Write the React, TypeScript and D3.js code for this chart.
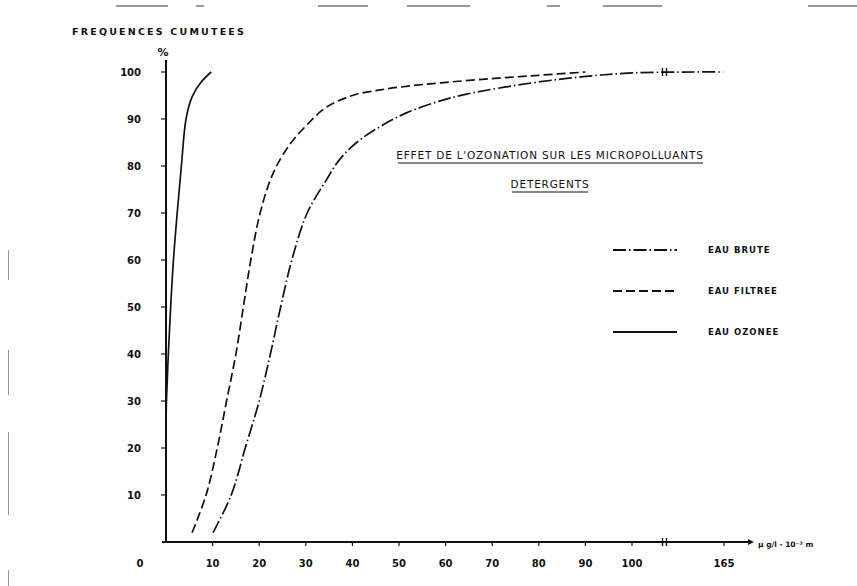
import * as d3 from 'd3';

// cumulative frequency (%) vs concentration (µg/l)
const yTicks = [10, 20, 30, 40, 50, 60, 70, 80, 90, 100];
const xTicks = [10, 20, 30, 40, 50, 60, 70, 80, 90, 100, 165];

const ozoneeX = [0, 0.1, 0.5, 1.0, 1.6, 2.4, 3.3, 4.3, 5.6, 7.5, 9.7];
const ozoneeY = [26, 30, 40, 50, 60, 70, 80, 90, 94.7, 97.8, 100];

const filtreeX = [5.6, 8.6, 11, 13, 15, 16.6, 18.2, 20.2, 23, 26.5, 30, 34.4, 40, 46, 52, 59, 70, 80, 90];
const filtreeY = [2, 10, 20, 30, 40, 50, 60, 70, 78.5, 84.5, 88.5, 92.5, 95, 96.2, 97, 97.7, 98.6, 99.3, 100];

const bruteX = [10.1, 14, 17, 20, 22.4, 24.6, 27, 30.3, 34.4, 37.2, 40.9, 45.8, 51.6, 58.7, 64.5, 78.7, 89.5, 100, 130, 164];
const bruteY = [2, 10, 20, 30, 40, 50, 60, 70, 77, 81.3, 85, 88.3, 91.3, 93.8, 95.3, 97.7, 99, 99.8, 100, 100];

const legendLabels = ['EAU BRUTE', 'EAU FILTREE', 'EAU OZONEE'];
const dashes = ['13 3 1.5 3', '9 4', null];

const App = () => {
  const width = 857;
  const height = 586;
  const font = "'DejaVu Sans', sans-serif";

  // broken axis after 100
  const x = d3.scaleLinear().domain([0, 100, 110, 165]).range([166, 632, 677, 724]);
  const y = d3.scaleLinear().domain([0, 100]).range([542, 72]);

  const line = d3
    .line<[number, number]>()
    .x((d) => x(d[0]))
    .y((d) => y(d[1]))
    .curve(d3.curveCatmullRom.alpha(0.5));

  const zip = (a: number[], b: number[]) => a.map((v, i) => [v, b[i]] as [number, number]);
  const series = [zip(bruteX, bruteY), zip(filtreeX, filtreeY), zip(ozoneeX, ozoneeY)];

  const ink = '#111';

  return (
    <svg
      width={width}
      height={height}
      style={{ position: 'absolute', left: 0, top: 0, background: '#fff' }}
      fontFamily={font}
    >
      {/* scan artifacts along the edges */}
      <g stroke="#333" strokeWidth={1}>
        <line x1={116} x2={168} y1={6} y2={6} />
        <line x1={196} x2={204} y1={6} y2={6} />
        <line x1={318} x2={368} y1={6} y2={6} />
        <line x1={407} x2={470} y1={6} y2={6} />
        <line x1={547} x2={560} y1={6} y2={6} />
        <line x1={603} x2={662} y1={6} y2={6} />
        <line x1={808} x2={857} y1={6} y2={6} />
      </g>
      <g stroke="#999" strokeWidth={1}>
        <line x1={8.5} x2={8.5} y1={250} y2={280} />
        <line x1={8.5} x2={8.5} y1={350} y2={395} />
        <line x1={8.5} x2={8.5} y1={432} y2={515} />
        <line x1={8.5} x2={8.5} y1={570} y2={586} />
      </g>

      {/* axis titles */}
      <text x={72} y={35} fontSize={9.5} fontWeight="bold" letterSpacing={2.2} fill={ink}>
        FREQUENCES  CUMUTEES
      </text>
      <text x={163} y={56} fontSize={11} fontWeight="bold" textAnchor="middle" fill={ink}>
        %
      </text>

      {/* y axis */}
      <line x1={x(0)} x2={x(0)} y1={60} y2={y(0)} stroke={ink} strokeWidth={2} />
      {yTicks.map((t) => (
        <g key={t}>
          <line x1={x(0) - 5} x2={x(0)} y1={y(t)} y2={y(t)} stroke={ink} strokeWidth={1.2} />
          <text x={141} y={y(t)} dy="0.35em" fontSize={10} fontWeight="bold" textAnchor="end" fill={ink}>
            {t}
          </text>
        </g>
      ))}
      <text x={140} y={567} fontSize={10} fontWeight="bold" textAnchor="middle" fill={ink}>
        0
      </text>

      {/* x axis */}
      <line x1={x(0) - 4} x2={748} y1={y(0)} y2={y(0)} stroke={ink} strokeWidth={2} />
      <path d={`M748,${y(0) - 3}L754,${y(0)}L748,${y(0) + 3}Z`} fill={ink} />
      {xTicks.map((t) => (
        <g key={t}>
          <line x1={x(t)} x2={x(t)} y1={y(0)} y2={y(0) + 4} stroke={ink} strokeWidth={1.2} />
          <text x={x(t)} y={567} fontSize={10} fontWeight="bold" textAnchor="middle" fill={ink}>
            {t}
          </text>
        </g>
      ))}
      {/* axis break */}
      <g stroke={ink} strokeWidth={1.4}>
        <line x1={x(107) - 1} x2={x(107) - 1} y1={y(0) - 4} y2={y(0) + 4} />
        <line x1={x(107) + 3} x2={x(107) + 3} y1={y(0) - 4} y2={y(0) + 4} />
      </g>
      <text x={758} y={y(0) + 5} fontSize={7.5} fontWeight="bold" fill={ink}>
        µ g/l - 10⁻³ m
      </text>

      {/* curves */}
      {series.map((s, i) => (
        <path
          key={i}
          d={line(s) ?? ''}
          fill="none"
          stroke={ink}
          strokeWidth={1.7}
          strokeDasharray={dashes[i] ?? undefined}
        />
      ))}
      <g stroke={ink} strokeWidth={1.4}>
        <line x1={x(107) - 1} x2={x(107) - 1} y1={y(100) - 4} y2={y(100) + 4} />
        <line x1={x(107) + 3} x2={x(107) + 3} y1={y(100) - 4} y2={y(100) + 4} />
      </g>

      {/* title */}
      <g fill={ink} fontSize={10.5} letterSpacing={0.8}>
        <text x={550} y={159} textAnchor="middle">
          EFFET  DE  L'OZONATION  SUR  LES  MICROPOLLUANTS
        </text>
        <text x={550} y={188} textAnchor="middle">
          DETERGENTS
        </text>
      </g>
      <line x1={398} x2={703} y1={163} y2={163} stroke={ink} strokeWidth={1} />
      <line x1={512} x2={588} y1={192} y2={192} stroke={ink} strokeWidth={1} />

      {/* legend */}
      {legendLabels.map((l, i) => (
        <g key={l} transform={`translate(613,${250 + i * 41})`}>
          <line x1={0} x2={64} y1={0} y2={0} stroke={ink} strokeWidth={1.8} strokeDasharray={dashes[i] ?? undefined} />
          <text x={95} y={0} dy="0.35em" fontSize={8.5} fontWeight="bold" letterSpacing={1} fill={ink}>
            {l}
          </text>
        </g>
      ))}
    </svg>
  );
};

export default App;
